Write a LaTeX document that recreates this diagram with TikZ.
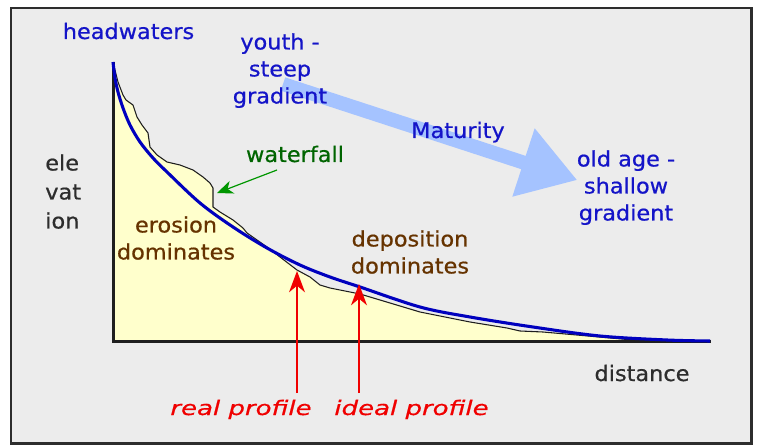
\documentclass[tikz,border=0pt]{standalone}
\usepackage{fontspec}
\setmainfont{DejaVu Sans}[FakeBold=0.6]
\usetikzlibrary{arrows.meta}
\definecolor{bg}{RGB}{236,236,236}
\definecolor{framec}{RGB}{45,45,45}
\definecolor{fillyel}{RGB}{255,255,204}
\definecolor{idealc}{RGB}{0,0,190}
\definecolor{txtblue}{RGB}{20,20,200}
\definecolor{matarrow}{RGB}{165,195,255}
\definecolor{wfgreen}{RGB}{0,100,0}
\definecolor{wfarrow}{RGB}{0,150,0}
\definecolor{brownt}{RGB}{102,51,0}
\definecolor{grayt}{RGB}{45,45,45}
\definecolor{redt}{RGB}{240,0,0}
\definecolor{axisc}{RGB}{30,30,30}
\begin{document}
\begin{tikzpicture}[x=0.75pt,y=-0.75pt,
  lab/.style={inner sep=0pt, xscale=1.05, font=\fontsize{16}{20.25}\selectfont, align=center},
  redlab/.style={inner sep=0pt, text=redt, xscale=1.3, font=\fontsize{15}{18}\selectfont\itshape},
  axisline/.style={draw=axisc, line width=2.25pt},
  realline/.style={draw=axisc, line width=0.8pt, line join=miter},
  idealline/.style={draw=idealc, line width=2.3pt},
  redarrow/.style={draw=redt, line width=1.1pt, -{Stealth[length=16pt, width=12pt, inset=5pt]}},
  greenarrow/.style={draw=wfarrow, line width=0.9pt, -{Stealth[length=12pt, width=10pt, inset=3.5pt]}}]
\path[use as bounding box] (0,0) rectangle (757,445);
\fill[white] (0,0) rectangle (757,445);
\draw[draw=framec, line width=1.9pt, fill=bg] (11,8) rectangle (751.5,443.5);

% maturity arrow
\fill[matarrow] (285.2,77.4) -- (525.7,155.9) -- (534.7,128.3) -- (576.7,179.9)
  -- (512.3,196.7) -- (521.3,169.2) -- (280.8,90.7) -- cycle;

% real profile fill
\fill[fillyel] (113,342) -- (113,64) -- (114,66) -- (118,82) -- (123,95) -- (126,100) -- (133,105)
  -- (137,117) -- (142,125) -- (148,133) -- (150,147) -- (157,155) -- (167,162) -- (180,165)
  -- (193,170) -- (203,177) -- (210,183) -- (213,188) -- (213,207) -- (220,212) -- (233,220)
  -- (243,228) -- (247,233) -- (257,240) -- (267,247) -- (280,257) -- (297,270) -- (310,277)
  -- (320,285) -- (330,288) -- (360,294) -- (420,312) -- (470,322) -- (507,328) -- (520,331)
  -- (543,332) -- (633,340) -- (710,341) -- (710,342) -- cycle;

% axes
\coordinate (ytop) at (113,62);
\coordinate (origin) at (113,342);
\coordinate (xend) at (711,342);
\draw[axisline] (ytop) -- (origin) -- (xend);

% real profile line
\draw[realline] (114,66) -- (118,82) -- (123,95) -- (126,100) -- (133,105)
  -- (137,117) -- (142,125) -- (148,133) -- (150,147) -- (157,155) -- (167,162) -- (180,165)
  -- (193,170) -- (203,177) -- (210,183) -- (213,188) -- (213,207) -- (220,212) -- (233,220)
  -- (243,228) -- (247,233) -- (257,240) -- (267,247) -- (280,257) -- (297,270) -- (310,277)
  -- (320,285) -- (330,288) -- (360,294) -- (420,312) -- (470,322) -- (507,328) -- (520,331)
  -- (543,332) -- (633,340) -- (710,341);

% ideal profile
\draw[idealline] plot[smooth, tension=0.55] coordinates {(113,62) (115,78) (118,92) (123,108)
  (130,125) (140,142) (153,158) (167,172) (200,203) (233,227) (267,248) (300,265) (330,277)
  (360,287) (420,307) (470,317) (533,327) (600,336) (667,340) (710,341)};

% labels
\node[lab, text=txtblue, anchor=base] (head) at (128.5,39) {headwaters};
\node[lab, text=txtblue, anchor=north] (youth) at (280,33) {youth -\\steep\\gradient};
\node[lab, text=txtblue, anchor=base] (mat) at (458,138) {Maturity};
\node[lab, text=txtblue, anchor=north] (old) at (626,150) {old age -\\shallow\\gradient};
\node[lab, text=wfgreen, anchor=base] (wf) at (295,162) {waterfall};
\node[lab, text=grayt, anchor=north west, align=left, font=\fontsize{16}{21.75}\selectfont] (elev) at (45,154) {ele\\vat\\ion};
\node[lab, text=brownt, anchor=north] (ero) at (176,216) {erosion\\dominates};
\node[lab, text=brownt, anchor=north] (dep) at (410,230) {deposition\\dominates};
\node[lab, text=grayt, anchor=base] (dist) at (642,381) {distance};
\node[redlab, anchor=base] (real) at (241,415) {real profile};
\node[redlab, anchor=base] (ideal) at (411.5,415) {ideal profile};

% arrows
\coordinate (wftail) at (277,170);
\coordinate (wftip) at (217,193);
\draw[greenarrow] (wftail) -- (wftip);
\coordinate (r1tail) at (297,393);
\coordinate (r1tip) at (297,271);
\coordinate (r2tail) at (359,393);
\coordinate (r2tip) at (359,284);
\draw[redarrow] (r1tail) -- (r1tip);
\draw[redarrow] (r2tail) -- (r2tip);
\end{tikzpicture}
\end{document}
